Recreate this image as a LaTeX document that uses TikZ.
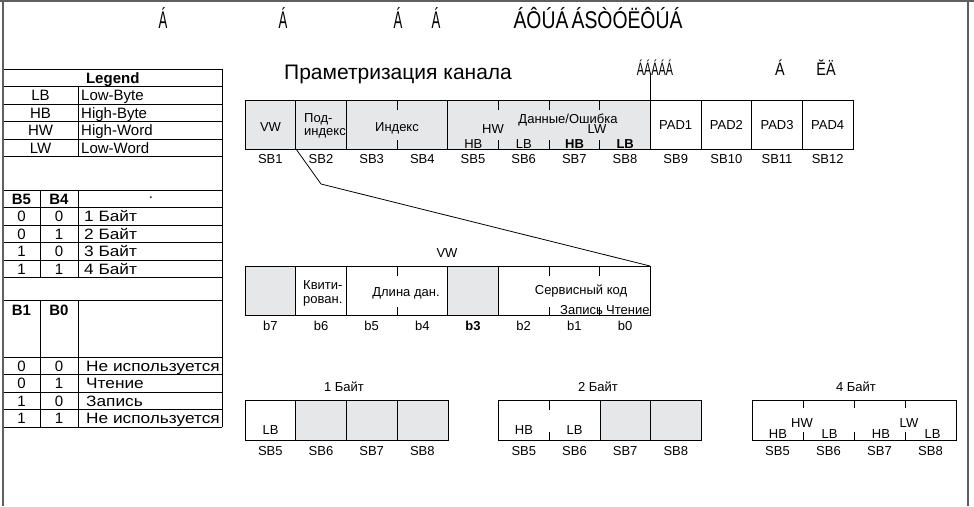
\documentclass[tikz,border=0pt]{standalone}
\usepackage{fontspec}
\setmainfont{Liberation Sans}
\definecolor{cellgray}{RGB}{230,231,232}
\definecolor{framegray}{RGB}{95,95,95}
\newcommand{\cyr}[1]{\scalebox{1.15}[1]{#1}}
\tikzset{
  cl/.style={draw=black, line width=0.8pt},
  tbl/.style={draw=black, line width=0.8pt},
  txt/.style={inner sep=0pt, font=\fontsize{13}{14}\selectfont, text height=9.3pt, text depth=0pt},
  lgd/.style={inner sep=0pt, font=\fontsize{15}{16}\selectfont, text height=10.7pt, text depth=0pt},
  lgdb/.style={lgd, font=\fontsize{15}{16}\selectfont\bfseries},
  ttl/.style={inner sep=0pt, font=\fontsize{21}{22}\selectfont, text height=15pt, text depth=0pt},
  garb/.style={inner sep=0pt, font=\fontsize{22}{24}\selectfont},
}
\begin{document}
\begin{tikzpicture}[x=1pt,y=-1pt]
\useasboundingbox (0,0) rectangle (974,506);
% frame
\draw[framegray, line width=2pt] (0,1) -- (974,1);
\draw[framegray, line width=1.5pt] (3,0) -- (3,506);
\draw[framegray, line width=1.5pt] (968,0) -- (968,506);
% garbled header glyphs
\node[garb] (g1) at (163,18) {\scalebox{0.6}[1.1]{Á}};
\node[garb] (g2) at (283,18) {\scalebox{0.6}[1.1]{Á}};
\node[garb] (g3) at (398,18) {\scalebox{0.6}[1.1]{Á}};
\node[garb] (g4) at (436,18) {\scalebox{0.6}[1.1]{Á}};
\node[garb] (g5) at (598,18) {\scalebox{0.88}[1.1]{ÁÔÚÁ\,ÁSÒÓËÔÚÁ}};
\node[garb, font=\fontsize{18}{19}\selectfont] (g6) at (655,68) {\scalebox{0.6}[1]{ÁÁÁÁÁ}};
\node[garb, font=\fontsize{18}{19}\selectfont] (g7) at (780,68) {\scalebox{0.8}[1]{Á}};
\node[garb, font=\fontsize{18}{19}\selectfont] (g8) at (826,68) {\scalebox{0.8}[1]{ĔÄ}};
% ---------------- legend table
\foreach \y in {69,86.5,104,121.5,139,156.5,190,207.5,225,242.5,260,277.5,300,357,374.5,392,409.5,427}
  \draw[tbl] (3.5,\y) -- (222,\y);
\draw[tbl] (222,69) -- (222,427);
\draw[tbl] (78,86.5) -- (78,156.5);
\draw[tbl] (78,190) -- (78,277.5);
\draw[tbl] (78,300) -- (78,427);
\draw[tbl] (40,190) -- (40,277.5);
\draw[tbl] (40,300) -- (40,427);
\node[lgdb] (lgtitle) at (112.75,77.75) {Legend};
\foreach \y/\a/\b [count=\k] in {95.25/LB/Low-Byte,112.75/HB/High-Byte,130.25/HW/High-Word,147.75/LW/Low-Word}{
  \node[lgd] (lga\k) at (40.5,\y) {\a};
  \node[lgd, anchor=west] (lgb\k) at (81,\y) {\b};
}
\node[lgdb] (hb5) at (21.5,198.75) {B5};
\node[lgdb] (hb4) at (59,198.75) {B4};
\node[lgd] (hdot) at (151,193) {.};
\foreach \y/\a/\b/\c [count=\k] in {216.25/0/0/1 Байт,233.75/0/1/2 Байт,251.25/1/0/3 Байт,268.75/1/1/4 Байт}{
  \node[lgd] (bsa\k) at (21.5,\y) {\a};
  \node[lgd] (bsb\k) at (59,\y) {\b};
  \node[lgd, anchor=west] (bsc\k) at (84,\y) {\cyr{\c}};
}
\node[lgdb] (hb1) at (21.5,310) {B1};
\node[lgdb] (hb0) at (59,310) {B0};
\foreach \y/\a/\b/\c [count=\k] in {365.75/0/0/Не используется,383.25/0/1/Чтение,400.75/1/0/Запись,418.25/1/1/Не используется}{
  \node[lgd] (rwa\k) at (21.5,\y) {\a};
  \node[lgd] (rwb\k) at (59,\y) {\b};
  \node[lgd, anchor=west] (rwc\k) at (86,\y) {\cyr{\c}};
}
% ---------------- title
\node[ttl, anchor=west] (title) at (284,72) {Праметризация канала};
% ---------------- main row
\fill[cellgray] (245,100) rectangle (650,149);
\draw[cl] (245,100) rectangle (853,149);
\foreach \i in {1,2,4,8,9,10,11} \draw[cl] ({245+50.67*\i},100) -- ++(0,49);
\foreach \i in {3,5,6,7} {
  \draw[cl] ({245+50.67*\i},100) -- ++(0,10);
  \draw[cl] ({245+50.67*\i},149) -- ++(0,-9);
}
\coordinate (padtop) at (650,100);
\coordinate (mast) at (650,73);
\draw[cl] (padtop) -- (mast);
\node[txt] (tVW) at (270.5,127) {VW};
\node[txt, anchor=west] (tPod1) at (304,118) {Под-};
\node[txt, anchor=west] (tPod2) at (304,131) {индекс};
\node[txt] (tInd) at (397,127) {Индекс};
\node[txt] (tHW) at (493,129) {HW};
\node[txt] (tDat) at (568,119) {Данные/Ошибка};
\node[txt] (tLW) at (597,129) {LW};
\node[txt] (tHB1) at (473.3,144) {HB};
\node[txt] (tLB1) at (523.8,144) {LB};
\node[txt, font=\fontsize{13}{14}\selectfont\bfseries] (tHB2) at (574.5,144) {HB};
\node[txt, font=\fontsize{13}{14}\selectfont\bfseries] (tLB2) at (625.2,144) {LB};
\foreach \i in {1,...,4}
  \node[txt] (pad\i) at ({245+50.67*(\i+7.5)},125) {PAD\i};
\foreach \i in {1,...,12}
  \node[txt] (sb\i) at ({245+50.67*(\i-0.5)},159) {SB\i};
% ---------------- VW detail
\coordinate (sbcorner) at (296,149);
\coordinate (knee) at (321,184);
\coordinate (vwcorner) at (650,266);
\draw[cl] (sbcorner) -- (knee) -- (vwcorner);
\node[txt] (tVW2) at (447,253) {VW};
\fill[cellgray] (245,266) rectangle (296,315);
\fill[cellgray] (448,266) rectangle (498.5,315);
\draw[cl] (245,266) rectangle (650,315);
\foreach \i in {1,2,4,5} \draw[cl] ({245+50.67*\i},266) -- ++(0,49);
\foreach \i in {3,6,7} {
  \draw[cl] ({245+50.67*\i},266) -- ++(0,10);
  \draw[cl] ({245+50.67*\i},315) -- ++(0,-8);
}
\node[txt, anchor=west] (tKv1) at (303,285) {Квити-};
\node[txt, anchor=west] (tKv2) at (303,299) {рован.};
\node[txt] (tDl) at (406,292) {Длина дан.};
\node[txt] (tSk) at (581,290) {Сервисный код};
\node[txt, anchor=west] (tZap) at (560,310) {Запись};
\node[txt, anchor=west] (tCht) at (606,310) {Чтение};
\foreach \i in {0,...,7}{
  \pgfmathtruncatemacro{\bb}{7-\i}
  \ifnum\bb=3
    \node[txt, font=\fontsize{13}{14}\selectfont\bfseries] (bit\bb) at ({245+50.67*(\i+0.5)},326) {b\bb};
  \else
    \node[txt] (bit\bb) at ({245+50.67*(\i+0.5)},326) {b\bb};
  \fi
}
% ---------------- 1 Byte
\node[txt] (t1b) at (344,387) {1 Байт};
\fill[cellgray] (296,400) rectangle (448,440);
\draw[cl] (245,400) rectangle (448,440);
\foreach \i in {1,2,3} \draw[cl] ({245+50.67*\i},400) -- ++(0,40);
\node[txt] (o1lb) at (270.5,430) {LB};
\foreach \i in {5,...,8}
  \node[txt] (o1sb\i) at ({245+50.67*(\i-4.5)},451) {SB\i};
% ---------------- 2 Byte
\node[txt] (t2b) at (598,387) {2 Байт};
\fill[cellgray] (600,400) rectangle (701,440);
\draw[cl] (498.5,400) rectangle (701,440);
\draw[cl] (600,400) -- (600,440);
\draw[cl] (650.5,400) -- (650.5,440);
\draw[cl] (549,400) -- ++(0,10);
\draw[cl] (549,440) -- ++(0,-8);
\node[txt] (o2hb) at (524,430) {HB};
\node[txt] (o2lb) at (574.5,430) {LB};
\foreach \i in {5,...,8}
  \node[txt] (o2sb\i) at ({498.5+50.67*(\i-4.5)},451) {SB\i};
% ---------------- 4 Byte
\node[txt] (t4b) at (856,387) {4 Байт};
\draw[cl] (752,400) rectangle (956,440);
\foreach \i in {1,2,3} {
  \draw[cl] ({752+51*\i},400) -- ++(0,8);
  \draw[cl] ({752+51*\i},440) -- ++(0,-8);
}
\node[txt] (o4hw) at (802,423) {HW};
\node[txt] (o4lw) at (909,423) {LW};
\node[txt] (o4hb1) at (778,434) {HB};
\node[txt] (o4lb1) at (829.5,434) {LB};
\node[txt] (o4hb2) at (881,434) {HB};
\node[txt] (o4lb2) at (932.5,434) {LB};
\foreach \i in {5,...,8}
  \node[txt] (o4sb\i) at ({752+51*(\i-4.5)},451) {SB\i};
\end{tikzpicture}
\end{document}
